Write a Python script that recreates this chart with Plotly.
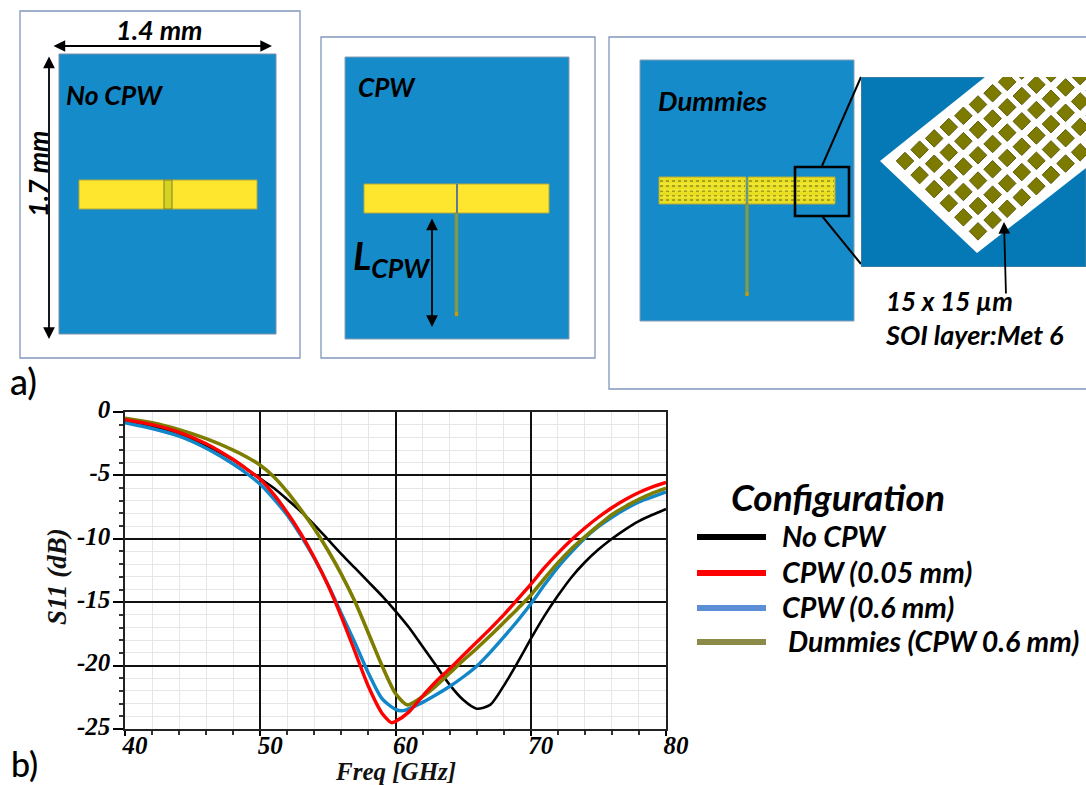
import plotly.graph_objects as go

SERIES_NAMES = ["No CPW", "CPW (0.05 mm)", "CPW (0.6 mm)", "Dummies (CPW 0.6 mm)"]
X_TICKS = [40, 50, 60, 70, 80]
Y_TICKS = [0, -5, -10, -15, -20, -25]
Y_TICK_LABELS = ["0", "-5", "-10", "-15", "-20", "-25"]

black_x = [40, 42, 44, 46, 48, 49, 50, 51, 52, 53, 54, 55, 56, 57, 58, 59, 60, 61, 62, 63, 64, 65, 66, 67, 68, 69, 70, 71, 72, 73, 74, 75, 76, 77, 78, 79, 80]
black_y = [-0.75, -1.15, -1.8, -2.65, -3.8, -4.5, -5.25, -6.0, -6.9, -7.85, -8.9, -10.05, -11.2, -12.3, -13.4, -14.5, -15.7, -17.0, -18.5, -20, -21.5, -22.7, -23.4, -23.1, -21.6, -19.8, -17.9, -16.1, -14.5, -13.05, -11.85, -10.85, -10, -9.25, -8.6, -8.1, -7.65]

red_x = [40, 42, 44, 46, 48, 49, 50, 51, 52, 53, 54, 55, 56, 57, 58, 59, 59.7, 60, 61, 62, 63, 64, 65, 66, 67, 68, 69, 70, 71, 72, 73, 74, 75, 76, 77, 78, 79, 80]
red_y = [-0.6, -1.0, -1.6, -2.5, -3.75, -4.5, -5.3, -6.5, -7.95, -9.6, -11.5, -13.65, -16.15, -18.9, -21.65, -23.75, -24.5, -24.4, -23.65, -22.4, -21.25, -20.25, -19.2, -18.15, -17.1, -16, -14.8, -13.6, -12.3, -11.15, -10.1, -9.15, -8.3, -7.55, -6.9, -6.35, -5.9, -5.55]

blue_x = [40, 42, 44, 46, 48, 49, 50, 51, 52, 53, 54, 55, 56, 57, 58, 59, 60, 60.6, 62, 63, 64, 65, 66, 67, 68, 69, 70, 71, 72, 73, 74, 75, 76, 77, 78, 79, 80]
blue_y = [-0.85, -1.3, -1.9, -2.85, -4.1, -4.85, -5.7, -6.85, -8.15, -9.75, -11.55, -13.6, -15.9, -18.2, -20.6, -22.6, -23.45, -23.55, -22.9, -22.3, -21.65, -20.9, -20.05, -18.95, -17.75, -16.5, -15.15, -13.65, -12.25, -11.05, -9.95, -9.05, -8.3, -7.65, -7.1, -6.7, -6.3]

olive_x = [40, 42, 44, 46, 48, 49, 50, 51, 52, 53, 54, 55, 56, 57, 58, 59, 60, 60.9, 62, 63, 64, 65, 66, 67, 68, 69, 70, 71, 72, 73, 74, 75, 76, 77, 78, 79, 80]
olive_y = [-0.5, -0.85, -1.4, -2.1, -3.0, -3.55, -4.2, -5.1, -6.3, -7.7, -9.2, -10.9, -12.8, -14.95, -17.45, -20.0, -22.2, -23.1, -22.45, -21.6, -20.6, -19.6, -18.65, -17.65, -16.6, -15.55, -14.45, -13.15, -11.9, -10.8, -9.85, -8.95, -8.1, -7.45, -6.9, -6.4, -6]

LINE_COLORS = ["#000000", "#ff0000", "#1186c8", "#7d7d00"]
LEGEND_COLORS = ["#000000", "#ff0000", "#5b8ed6", "#8c8a48"]
LINE_WIDTHS = [2.6, 3.4, 3.4, 3.6]

W, H = 1086, 785
L, R, T, B = 125, 666, 412, 729
BLOCK = "Lato"
fig = go.Figure()

for i, xs, ys in [(0, black_x, black_y), (2, blue_x, blue_y), (3, olive_x, olive_y), (1, red_x, red_y)]:
    fig.add_trace(go.Scatter(x=xs, y=ys, mode="lines", name=SERIES_NAMES[i], showlegend=False, hoverinfo="skip",
                             line=dict(color=LINE_COLORS[i], width=LINE_WIDTHS[i], shape="spline", smoothing=0.7)))

fig.add_trace(go.Scatter(x=[None], y=[None], xaxis="x2", yaxis="y2", showlegend=False, hoverinfo="skip"))

OX, OY, AX, AY, BX, BY = 905, 161, 14.6, -11.3, 14.6, 14.07
cx, cy = [], []
for j in range(6):
    for k in range(16):
        cx.append(OX + k * AX + j * BX)
        cy.append(OY + k * AY + j * BY)
fig.add_trace(go.Scatter(x=cx, y=cy, xaxis="x3", yaxis="y3", mode="markers", showlegend=False, hoverinfo="skip",
                         marker=dict(symbol="diamond", size=13.5, color="#7d7a00",
                                     line=dict(color="#5f5d10", width=1))))

shapes = []
def rect(x0, y0, x1, y1, fill=None, line=None, lw=1, ref="2"):
    shapes.append(dict(type="rect", xref="x" + ref, yref="y" + ref, x0=x0, y0=y0, x1=x1, y1=y1,
                       fillcolor=fill or "rgba(0,0,0,0)", line=dict(color=line or "rgba(0,0,0,0)", width=lw), layer="below"))
def seg(x0, y0, x1, y1, color="black", lw=2, dash=None, ref="2"):
    shapes.append(dict(type="line", xref="x" + ref, yref="y" + ref, x0=x0, y0=y0, x1=x1, y1=y1,
                       line=dict(color=color, width=lw, dash=dash or "solid"), layer="below"))

FRAME = "#8297bb"
BLUE = "#158bca"
YEL = "#ffe62e"
rect(20, 11, 300, 358, "white", FRAME, 1.3)
rect(59, 54, 276, 334, BLUE, "#7f8fa8", 1)
rect(79, 180, 257, 209, YEL, "#b3a93a", 1)
rect(164, 180, 172, 209, "#d7d21f", "#77803a", 1)
rect(321, 37, 595, 358, "white", FRAME, 1.3)
rect(345, 57, 569, 339, BLUE, "#8a9db2", 1)
rect(364, 184, 549, 213, YEL, "#b3a93a", 1)
rect(455, 213, 458, 316, "#6f9f6a", "#8d8a2c", 0.8)
seg(457, 184, 457, 213, "#5f7a90", 2)
rect(455, 312, 458, 316, "#c49a12", None, 0)
rect(609, 37, 1090, 389, "white", FRAME, 1.3)
rect(640, 60, 854, 321, BLUE, "#8a9db2", 1)
rect(659, 177, 746, 204, "#e8de22", "#b3a93a", 1)
rect(748, 177, 835, 204, "#e8de22", "#b3a93a", 1)
for yy in (181, 186, 191, 196, 200):
    seg(660, yy, 745, yy, "#8f8b1e", 1.6, "dot")
    seg(749, yy, 834, yy, "#8f8b1e", 1.6, "dot")
for yy in (184, 190, 197):
    seg(660, yy, 745, yy, "#fff44a", 0.8)
    seg(749, yy, 834, yy, "#fff44a", 0.8)
rect(745.5, 204, 748.5, 295, "#6f9f6a", "#8d8a2c", 0.8)
rect(745.5, 292, 748.5, 296, "#c49a12", None, 0)
rect(795, 167, 849, 216, None, "black", 2.6)
seg(822, 166, 861, 77, "black", 2)
seg(822, 216, 861, 264, "black", 2)
shapes.append(dict(type="rect", xref="x3", yref="y3", x0=861, y0=77, x1=1086, y1=267, fillcolor="#0479b6",
                   line=dict(color="#6f7f8c", width=1), layer="below"))
shapes.append(dict(type="path", xref="x3", yref="y3", path="M 880 161 L 985 77 L 1090 77 L 1090 165 L 977 253 Z",
                   fillcolor="white", line=dict(width=0), layer="below"))

anns = []
def txt(x, y, s, size, weight="bold", style="italic", family=BLOCK, angle=0, anchor="center", color="black"):
    anns.append(dict(xref="x2", yref="y2", x=x, y=y, text=s, showarrow=False, textangle=angle, xanchor=anchor,
                     yanchor="middle", font=dict(family=family, size=size, color=color, weight=weight, style=style)))
def arrow(x0, y0, x1, y1, both=True, lw=1.8):
    anns.append(dict(xref="x2", yref="y2", axref="x2", ayref="y2", x=x1, y=y1, ax=x0, ay=y0, text="", showarrow=True,
                     arrowhead=2, arrowsize=1.3, arrowwidth=lw, arrowcolor="black",
                     arrowside="end+start" if both else "end", standoff=0, startstandoff=0))

txt(159, 29, "1.4 mm", 27)
txt(37, 174, "1.7 mm", 27, angle=-90)
txt(114, 95, "No CPW", 26.5)
txt(387, 87, "CPW", 26)
txt(712, 100, "Dummies", 27.5)
txt(391, 258, "L<sub>CPW</sub>", 38)
txt(884, 301, "15 x 15 µm", 26, anchor="left")
txt(883, 334, "SOI layer:Met 6", 27, anchor="left")
txt(23, 381, "a)", 36, weight=500, style="normal")
txt(24, 763, "b)", 34, weight=500, style="normal")
txt(838, 496, "Configuration", 37)
txt(395, 771, "Freq [GHz]", 25, family="Liberation Serif", color="#111111")
txt(57, 577, "S11 (dB)", 27, family="Liberation Serif", angle=-90, color="#111111")

KEY_ROWS = [537, 573, 608, 642]
KEY_TEXT_X = [780, 780, 780, 786]
for i, name in enumerate(SERIES_NAMES):
    seg(697, KEY_ROWS[i], 766, KEY_ROWS[i], LEGEND_COLORS[i], 6)
    txt(KEY_TEXT_X[i], KEY_ROWS[i] - 1, name, 28.5, anchor="left")

arrow(52, 46, 272, 46)
arrow(49, 55, 49, 339)
arrow(432, 217, 432, 327)
arrow(1006, 295, 1004, 222, both=False)

AXF = dict(family="Liberation Serif", size=25, color="black", weight="bold", style="italic")
hidden = dict(visible=False, fixedrange=True)
fig.update_layout(
    width=W, height=H, margin=dict(l=0, r=0, t=0, b=0, autoexpand=False), paper_bgcolor="white", plot_bgcolor="rgba(0,0,0,0)",
    xaxis=dict(domain=[L / W, R / W], range=[40, 80], anchor="y", tickvals=X_TICKS, ticktext=[str(v) for v in X_TICKS],
               tickfont=AXF, ticks="outside", ticklen=5, tickcolor="black", tickwidth=1.5, showline=True,
               ticklabelshift=10, ticklabelstandoff=-12,
               linecolor="#222222", linewidth=1.5, mirror=True, showgrid=True, gridcolor="#111111", gridwidth=1.5,
               zeroline=False,
               minor=dict(dtick=2, showgrid=True, gridcolor="#e6e6e6", gridwidth=1, ticks="outside", ticklen=4, tickcolor="#333333")),
    yaxis=dict(domain=[1 - B / H, 1 - T / H], range=[-25, 0], anchor="x", tickvals=Y_TICKS, ticktext=Y_TICK_LABELS,
               tickfont=AXF, ticks="outside", ticklen=10, tickcolor="black", tickwidth=1.5, showline=True,
               ticklabelshift=-3, ticklabelstandoff=-2,
               linecolor="#222222", linewidth=1.5, mirror=True, showgrid=True, gridcolor="#111111", gridwidth=1.5,
               zeroline=False,
               minor=dict(dtick=1, showgrid=True, gridcolor="#e6e6e6", gridwidth=1, ticks="outside", ticklen=4, tickcolor="#333333")),
    xaxis2=dict(domain=[0, 1], range=[0, W], anchor="y2", **hidden),
    yaxis2=dict(domain=[0, 1], range=[H, 0], anchor="x2", **hidden),
    xaxis3=dict(domain=[861 / W, 1], range=[861, W], anchor="y3", **hidden),
    yaxis3=dict(domain=[1 - 267 / H, 1 - 77 / H], range=[267, 77], anchor="x3", **hidden),
    shapes=shapes, annotations=anns, showlegend=False,
)
fig.write_html("out.html", config=dict(displayModeBar=False),
               post_script="document.body.style.margin='0';document.body.style.overflow='hidden';")
